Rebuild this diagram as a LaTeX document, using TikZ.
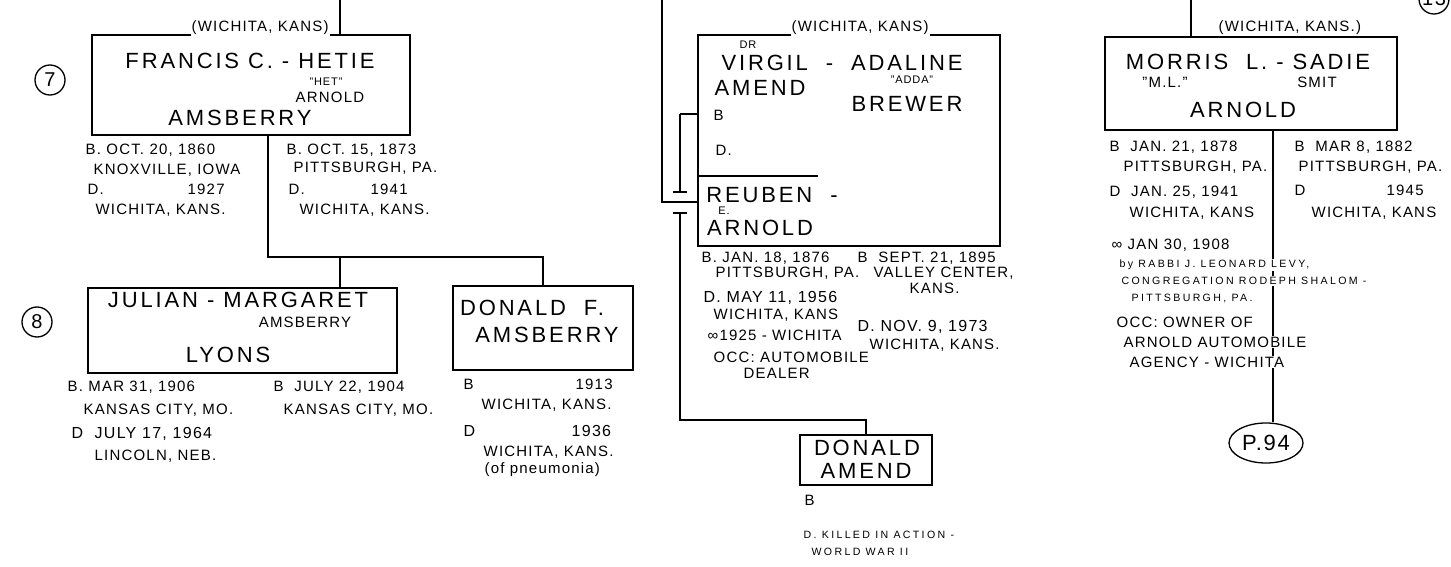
\documentclass[tikz,border=0pt]{standalone}
\usepackage{fontspec}
\setmainfont{Liberation Sans}[LetterSpace=8]
\usetikzlibrary{positioning,fit,shapes.geometric}

\begin{document}
\begin{tikzpicture}[x=0.5pt,y=-0.5pt,line width=0.65pt,
    famblock/.style={draw,inner sep=0pt},
    famname/.style={font=\fontsize{11}{12}\selectfont\addfontfeature{LetterSpace=13},inner sep=0pt},
    midname/.style={font=\fontsize{7.5}{9}\selectfont,inner sep=0pt},
    nick/.style={font=\fontsize{5.5}{6}\selectfont,inner sep=0pt},
    dates/.style={font=\fontsize{7.5}{9}\selectfont,anchor=west,inner sep=0.5pt,fill=white},
    bigdates/.style={dates,font=\fontsize{8}{9}\selectfont},
    tiny/.style={dates,font=\fontsize{5.3}{6}\selectfont\addfontfeature{LetterSpace=22}},
    gen/.style={draw,circle,minimum size=15pt,inner sep=0pt,font=\fontsize{10}{10}\selectfont}]
\useasboundingbox (0,0) rectangle (1451,567);

% family boxes
\node[famblock,fit={(92,35) (410,135)}] (francis) {};
\node[famblock,fit={(88,288) (397,373)}] (julian) {};
\node[famblock,fit={(453,286) (633,370)}] (donaldf) {};
\node[famblock,fit={(698,35) (1000,246)}] (virgil) {};
\node[famblock,fit={(800,435) (932,485)}] (donalda) {};
\node[famblock,fit={(1105,37) (1397,130)}] (morris) {};
\node[draw,ellipse,minimum width=37pt,minimum height=20pt,inner sep=0pt,
      font=\fontsize{11}{12}\selectfont] (p94) at (1266,443) {P.94};

% generation marks
\node[gen] (g7) at (50,80) {7};
\node[gen] (g8) at (37,322) {8};
\node[gen] (g13) at (1434,-1) {13};

% left column
\coordinate (ltop) at (340,0);
\coordinate (fsplit) at (268,257);
\coordinate (jdrop) at (340,257);
\draw (ltop) -- (ltop |- francis.north);
\draw (fsplit |- francis.south) -- (fsplit) -- (fsplit -| donaldf.north) -- (donaldf.north);
\draw (jdrop) -- (jdrop |- julian.north);

% middle column
\coordinate (mtop) at (662,0);
\coordinate (mjoin) at (662,202);
\coordinate (rsep) at (818,176);
\coordinate (bkt) at (680,114);
\coordinate (bkb) at (680,192);
\coordinate (ctop) at (680,213);
\coordinate (cturn) at (680,420);
\draw (mtop) -- (mjoin) -- (mjoin -| virgil.west);
\draw (rsep -| virgil.west) -- (rsep);
\draw[line width=1.2pt] (bkt -| virgil.west) -- (bkt);
\draw (bkt) -- (bkb);
\draw ([xshift=-3.5pt]bkb) -- ([xshift=3.5pt]bkb);
\draw ([xshift=-3.5pt]ctop) -- ([xshift=3.5pt]ctop);
\draw (ctop) -- (cturn) -| (donalda.north);

% right column
\coordinate (rtop) at (1191,0);
\coordinate (msplit) at (1273,0);
\draw (rtop) -- (rtop |- morris.north);
\draw (msplit |- morris.south) -- (msplit |- p94.north);

% names
\foreach \n/\sty/\x/\y/\txt in {
    wk1/dates/190/28/{(WICHITA, KANS)},
    fnm/famname/250/61/{FRANCIS C. - HETIE},
    fnk/nick/326/82/{"HET"},
    fmd/midname/330/97/{ARNOLD},
    fsn/famname/240/118/{AMSBERRY},
    jnm/famname/238/300/{JULIAN - MARGARET},
    jmd/midname/305/322/{AMSBERRY},
    jsn/famname/228/355/{LYONS},
    dnm/famname/532/308/{DONALD\ \ F.},
    dsn/famname/547/335/{AMSBERRY},
    wk2/dates/790/28/{(WICHITA, KANS)},
    vdr/nick/748/45/{DR},
    vnm/famname/842/63/{VIRGIL\ \ -\ \ ADALINE},
    vsn/famname/760/88/{AMEND},
    vnk/nick/912/80/{"ADDA"},
    vmd/famname/907/104/{BREWER},
    rnm/famname/772/195/{REUBEN\ \ -},
    rnk/nick/724/211/{E.},
    rsn/famname/760/228/{ARNOLD},
    anm/famname/867/448/{DONALD},
    asn/famname/866/471/{AMEND},
    wk3/dates/1217/28/{(WICHITA, KANS.)},
    mnm/famname/1248/62/{MORRIS\ \ L.\ -\ SADIE},
    mnk/midname/1165/82/{"M.L."},
    smd/midname/1317/82/{SMIT},
    msn/famname/1243/110/{ARNOLD}}
    \node[\sty] (\n) at (\x,\y) {\txt};
\node[dates] (vb) at (712,115) {B};
\node[dates] (vd) at (714,150) {D.};

% dates and places
\foreach \n/\sty/\x/\y/\txt in {
    fb1/dates/84/150/{B. OCT. 20, 1860},
    fb2/dates/92/170/{KNOXVILLE, IOWA},
    fb3/dates/86/189/{\makebox[50pt][l]{D.}1927},
    fb4/dates/94/210/{WICHITA, KANS.},
    hb1/dates/285/150/{B. OCT. 15, 1873},
    hb2/dates/292/168/{PITTSBURGH, PA.},
    hb3/dates/287/189/{\makebox[41pt][l]{D.}1941},
    hb4/dates/298/210/{WICHITA, KANS.},
    jb1/dates/66/387/{B. MAR 31, 1906},
    jb2/dates/82/410/{KANSAS CITY, MO.},
    jb3/bigdates/70/434/{D\ \ JULY 17, 1964},
    jb4/dates/93/456/{LINCOLN, NEB.},
    mb1/dates/272/387/{B\ \ JULY 22, 1904},
    mb2/dates/282/410/{KANSAS CITY, MO.},
    db1/dates/462/384/{\makebox[56pt][l]{B}1913},
    db2/dates/480/405/{WICHITA, KANS.},
    db3/bigdates/462/431/{\makebox[54pt][l]{D}1936},
    db4/dates/482/452/{WICHITA, KANS.},
    db5/dates/483/470/{(of pneumonia)},
    rb1/dates/700/258/{B. JAN. 18, 1876},
    rb2/dates/714/273/{PITTSBURGH, PA.},
    rb3/bigdates/702/298/{D. MAY 11, 1956},
    rb4/dates/712/315/{WICHITA, KANS},
    rb5/dates/706/335/{∞1925 - WICHITA},
    rb6/dates/712/357/{OCC: AUTOMOBILE},
    rb7/dates/742/373/{DEALER},
    ab1/dates/856/258/{B\ \ SEPT. 21, 1895},
    ab2/dates/872/273/{VALLEY CENTER,},
    ab3/dates/908/288/{KANS.},
    ab4/bigdates/856/327/{D. NOV. 9, 1973},
    ab5/dates/868/345/{WICHITA, KANS.},
    da1/dates/803/500/{B},
    da2/tiny/802/535/{D. KILLED IN ACTION -},
    da3/tiny/810/552/{WORLD WAR II},
    mo1/dates/1108/147/{B\ \ JAN. 21, 1878},
    mo2/dates/1122/167/{PITTSBURGH, PA.},
    mo3/dates/1108/192/{D\ \ JAN. 25, 1941},
    mo4/dates/1128/213/{WICHITA, KANS},
    sa1/dates/1293/147/{B\ \ MAR 8, 1882},
    sa2/dates/1297/167/{PITTSBURGH, PA.},
    sa3/dates/1293/190/{\makebox[46pt][l]{D}1945},
    sa4/dates/1310/213/{WICHITA, KANS},
    mo5/dates/1110/245/{∞ JAN 30, 1908},
    mo6/tiny/1118/265/{by RABBI J. LEONARD LEVY,},
    mo7/tiny/1120/281/{CONGREGATION RODEPH SHALOM -},
    mo8/tiny/1130/298/{PITTSBURGH, PA.},
    mo9/dates/1115/322/{OCC: OWNER OF},
    mo10/dates/1122/342/{ARNOLD AUTOMOBILE},
    mo11/dates/1128/362/{AGENCY - WICHITA}}
    \node[\sty] (\n) at (\x,\y) {\txt};
\end{tikzpicture}
\end{document}
